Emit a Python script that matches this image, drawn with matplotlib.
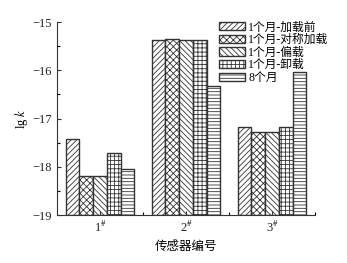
import matplotlib
matplotlib.use('Agg')
import matplotlib.pyplot as plt
import numpy as np

plt.rcParams['font.family'] = ['Liberation Serif', 'Noto Sans CJK SC']
plt.rcParams['hatch.linewidth'] = 0.6
plt.rcParams['mathtext.fontset'] = 'stix'

sensors = [r'1$^{\#}$', r'2$^{\#}$', r'3$^{\#}$']
series = ['1个月-加载前', '1个月-对称加载', '1个月-偏载', '1个月-卸载', '8个月']
values = [
    [-17.43, -15.38, -17.17],
    [-18.20, -15.36, -17.28],
    [-18.20, -15.38, -17.28],
    [-17.72, -15.38, -17.17],
    [-18.05, -16.32, -16.03],
]
hatches = ['//////', 'xxxxx', '\\\\\\\\\\\\', '++++', '-----']

fig = plt.figure(figsize=(3.47, 2.63), dpi=100)
ax = fig.add_axes([0.164, 0.1825, 0.744, 0.7335])

base = -19
x = np.arange(1, 4)
w = 0.16
for i, (name, vals) in enumerate(zip(series, values)):
    pos = x - 0.4 + w / 2 + i * w
    ax.bar(pos, np.array(vals) - base, bottom=base, width=w, color='white',
           edgecolor='#333333', linewidth=1.0, hatch=hatches[i], label=name)

ax.set_xlim(0.5, 3.5)
ax.set_ylim(-19, -15)
ax.set_xticks(x)
ax.set_xticklabels(sensors, fontsize=9)
ax.set_xticks([1.5, 2.5, 3.5], minor=True)
ax.set_yticks([-19, -18, -17, -16, -15])
ax.set_yticks([-18.5, -17.5, -16.5, -15.5], minor=True)
ax.tick_params(direction='in', labelsize=9, length=3, width=0.8, colors='#333333')
ax.tick_params(which='minor', direction='in', length=2, width=0.8)
for lab in ax.get_xticklabels() + ax.get_yticklabels():
    lab.set_color('#222222')
ax.spines[['top', 'right']].set_visible(False)
ax.spines[['left', 'bottom']].set_color('#333333')

ax.set_ylabel(r'lg $k$', fontsize=9, labelpad=2)
ax.set_xlabel('传感器编号', fontsize=9, labelpad=4)

ax.legend(loc='upper right', bbox_to_anchor=(1.08, 1.04), frameon=False,
          fontsize=8.5, handlelength=2.2, handleheight=0.7, labelspacing=0.05,
          handletextpad=0.3, borderaxespad=0.2)

fig.savefig('out.png', dpi=100)
